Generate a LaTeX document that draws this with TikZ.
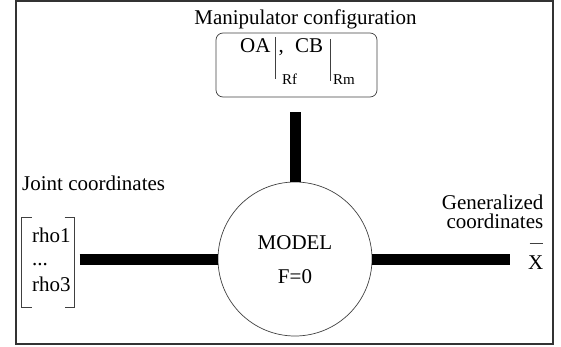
\documentclass[tikz,border=0pt]{standalone}
\usepackage{fontspec}
\setmainfont{Liberation Serif}
\begin{document}
\begin{tikzpicture}[x=1pt,y=-1pt,
  lbl/.style={inner sep=0pt, font=\fontsize{21}{20}\selectfont},
  sub/.style={inner sep=0pt, font=\fontsize{15}{17}\selectfont},
  link/.style={line width=11pt},
  thinline/.style={draw=black!75, line width=0.7pt}]
\useasboundingbox (0,0) rectangle (561,347);
% outer frame
\draw[draw=black!80, line width=1.4pt] (16,1) rectangle (553,344);

% manipulator configuration box
\node[lbl, anchor=base] (title) at (305.5,25) {Manipulator configuration};
\node[thinline, rounded corners=7pt, minimum width=161pt, minimum height=64pt] (cfg) at (296.5,65) {};
\node[lbl, anchor=base west] (oa) at (240,53) {OA};
\node[lbl, anchor=base west] (comma) at (278.5,53) {,};
\node[lbl, anchor=base west] (cb) at (295,53) {CB};
\node[sub, anchor=base west] (rf) at (282,85) {Rf};
\node[sub, anchor=base west] (rm) at (333,85) {Rm};
\draw[thinline] (275,37) -- (275,79);
\draw[thinline] (330.5,39) -- (330.5,81);

% model
\node[thinline, circle, minimum size=154pt] (model) at (295,259) {};
\node[lbl, anchor=base] (mtxt) at (295,249.5) {MODEL};
\node[lbl, anchor=base] (ftxt) at (295,283) {F=0};

% joint coordinates
\node[lbl, anchor=base west] (jtitle) at (22,190) {Joint coordinates};
\node[minimum width=52.6pt, minimum height=89pt, inner sep=0pt] (jvec) at (48,262.5) {};
\node[lbl, anchor=base west] (r1) at (32,242) {rho1};
\node[lbl, anchor=base west] (rd) at (32,265) {...};
\node[lbl, anchor=base west] (r3) at (32,291) {rho3};
\draw[thinline] ([xshift=10pt]jvec.north west) -| (jvec.south west) -- ++(10,0);
\draw[thinline] ([xshift=-10pt]jvec.north east) -| (jvec.south east) -- ++(-10,0);

% generalized coordinates
\node[lbl, anchor=base east] (gtitle) at (543.5,209) {Generalized};
\node[lbl, anchor=base east] (gtitle2) at (543.5,228) {coordinates};
\node[lbl, anchor=base west] (xbar) at (528,269) {X};
\draw[thinline] (529.5,243) -- (543,243);

% connections
\draw[link, shorten <=15pt] (cfg.south -| model.north) -- (model.north);
\draw[link, shorten <=5pt] (jvec.east |- model.west) -- (model.west);
\draw[link, shorten >=18pt] (model.east) -- (xbar.west |- model.east);
\end{tikzpicture}
\end{document}
